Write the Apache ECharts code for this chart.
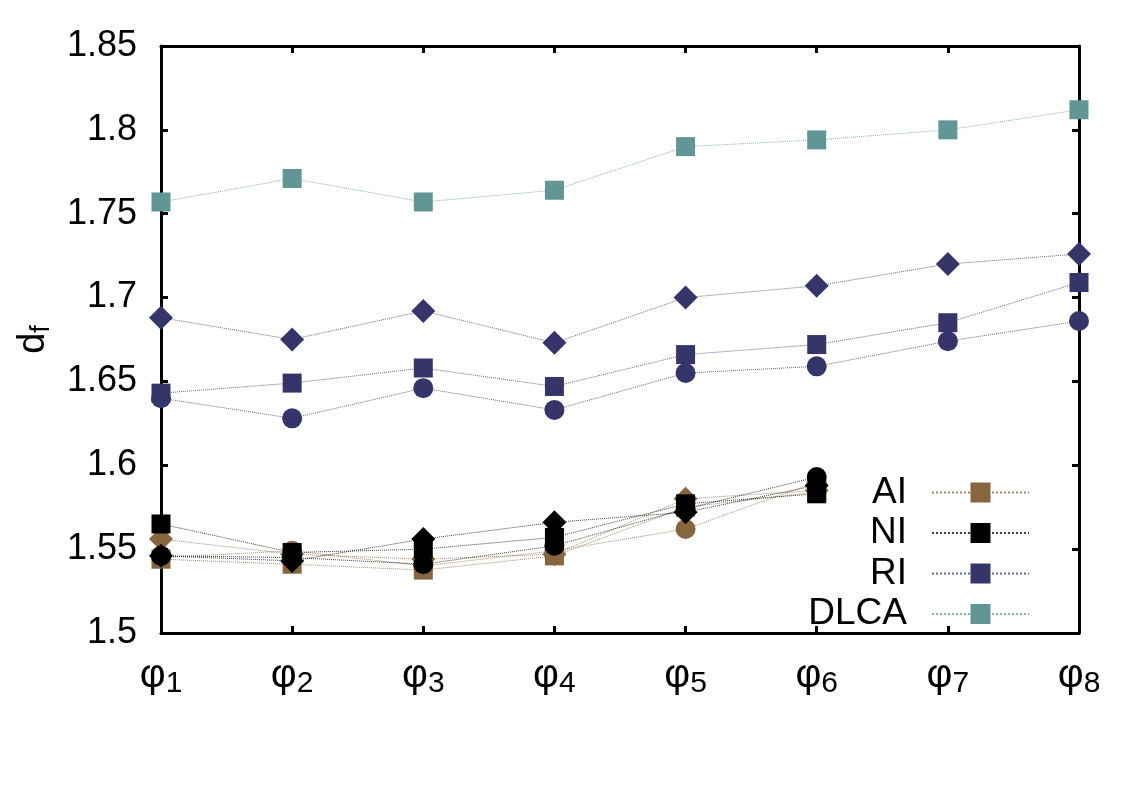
<!DOCTYPE html>
<html>
<head>
<meta charset="utf-8">
<script src="https://cdn.jsdelivr.net/npm/echarts@6/dist/echarts.min.js"></script>
<style>
html,body{margin:0;padding:0;background:#fff;}
#main{width:1125px;height:788px;}
</style>
</head>
<body>
<div id="main"></div>
<script>
// Categories and tick labels
const categories = ['φ1','φ2','φ3','φ4','φ5','φ6','φ7','φ8'];
const yTicks = [1.5,1.55,1.6,1.65,1.7,1.75,1.8,1.85];

// AI series (brown)
const aiSquare  = [1.544, 1.541, 1.5375, 1.546, 1.575, 1.584];
const aiDiamond = [1.556, 1.547, 1.544, 1.547, 1.580, 1.585];
const aiCircle  = [1.545, 1.549, 1.540, 1.549, 1.562, 1.590];
// NI series (black)
const niSquare  = [1.565, 1.548, 1.550, 1.557, 1.577, 1.583];
const niDiamond = [1.546, 1.543, 1.556, 1.566, 1.572, 1.588];
const niCircle  = [1.546, 1.545, 1.541, 1.552, 1.574, 1.593];
// RI series (navy)
const riSquare  = [1.643, 1.649, 1.658, 1.647, 1.666, 1.672, 1.685, 1.709];
const riDiamond = [1.688, 1.675, 1.692, 1.673, 1.700, 1.707, 1.720, 1.726];
const riCircle  = [1.640, 1.628, 1.646, 1.633, 1.655, 1.659, 1.674, 1.686];
// DLCA series (teal)
const dlcaSquare = [1.757, 1.771, 1.757, 1.764, 1.790, 1.794, 1.800, 1.812];

const colors = {AI:'#87653f', NI:'#000000', RI:'#35356a', DLCA:'#629595'};
const FONT = 'Liberation Sans, Arial, sans-serif';

function mk(name, data, symbol, size){
  return {
    name: name, type: 'line', data: data,
    symbol: symbol, symbolSize: size,
    showAllSymbol: true,
    itemStyle: {color: colors[name], opacity: 1},
    lineStyle: {color: colors[name], width: 1, type: 'dotted', opacity: 0.75},
    emphasis: {disabled: true},
    z: 3
  };
}

const chart = echarts.init(document.getElementById('main'));
const axisLineStyle = {color:'#000', width:3};
chart.setOption({
  animation: false,
  backgroundColor: '#fff',
  grid: {left:161, right:46, top:46, bottom:155, containLabel:false},
  legend: {
    data: ['AI','NI','RI','DLCA'],
    orient: 'vertical',
    align: 'right',
    right: 95, top: 474,
    padding: 0,
    itemWidth: 97, itemHeight: 25, itemGap: 3.5,
    selectedMode: false,
    textStyle: {fontSize: 37, fontFamily: FONT, color:'#000', lineHeight: 25, padding:[0,20,0,0]}
  },
  xAxis: [{
    type: 'category', data: categories, boundaryGap: false,
    axisLine: {lineStyle: axisLineStyle},
    axisTick: {inside: true, length: 7, lineStyle:{width:3, color:'#000'}},
    axisLabel: {
      margin: 20,
      formatter: function(v){ return '{a|' + v.charAt(0) + '}{b|' + v.slice(1) + '}'; },
      rich: {
        a: {fontSize: 40, fontFamily: FONT, color:'#000'},
        b: {fontSize: 30, fontFamily: FONT, color:'#000', padding:[16,0,0,0]}
      }
    },
    splitLine: {show:false}
  },{
    type: 'category', data: categories, boundaryGap: false, position: 'top',
    axisLine: {lineStyle: axisLineStyle},
    axisTick: {inside: true, length: 7, lineStyle:{width:3, color:'#000'}},
    axisLabel: {show:false}, splitLine:{show:false}
  }],
  yAxis: [{
    type: 'value', min: 1.5, max: 1.85, interval: 0.05,
    axisLine: {show:true, lineStyle: axisLineStyle},
    axisTick: {show:true, inside: true, length: 7, lineStyle:{width:3, color:'#000'}},
    splitLine: {show:false},
    axisLabel: {
      margin: 24, fontSize: 36, fontFamily: FONT, color:'#000',
      formatter: function(v){ return String(parseFloat(v.toFixed(2))); }
    },
    name: '{a|d}{b|f}',
    nameLocation: 'middle', nameRotate: 90, nameGap: 106,
    nameTextStyle: {
      rich: {
        a: {fontSize: 38, fontFamily: FONT, color:'#000'},
        b: {fontSize: 27, fontFamily: FONT, color:'#000', padding:[16,0,0,0]}
      }
    }
  },{
    type: 'value', min: 1.5, max: 1.85, interval: 0.05, position: 'right',
    axisLine: {show:true, lineStyle: axisLineStyle},
    axisTick: {show:true, inside: true, length: 7, lineStyle:{width:3, color:'#000'}},
    splitLine: {show:false}, axisLabel: {show:false}
  }],
  series: [
    mk('AI', aiSquare, 'rect', 19),
    mk('AI', aiDiamond, 'diamond', 24),
    mk('AI', aiCircle, 'circle', 20),
    mk('NI', niSquare, 'rect', 19),
    mk('NI', niDiamond, 'diamond', 24),
    mk('NI', niCircle, 'circle', 20),
    mk('RI', riSquare, 'rect', 19),
    mk('RI', riDiamond, 'diamond', 24),
    mk('RI', riCircle, 'circle', 20),
    mk('DLCA', dlcaSquare, 'rect', 19)
  ]
});
</script>
</body>
</html>
